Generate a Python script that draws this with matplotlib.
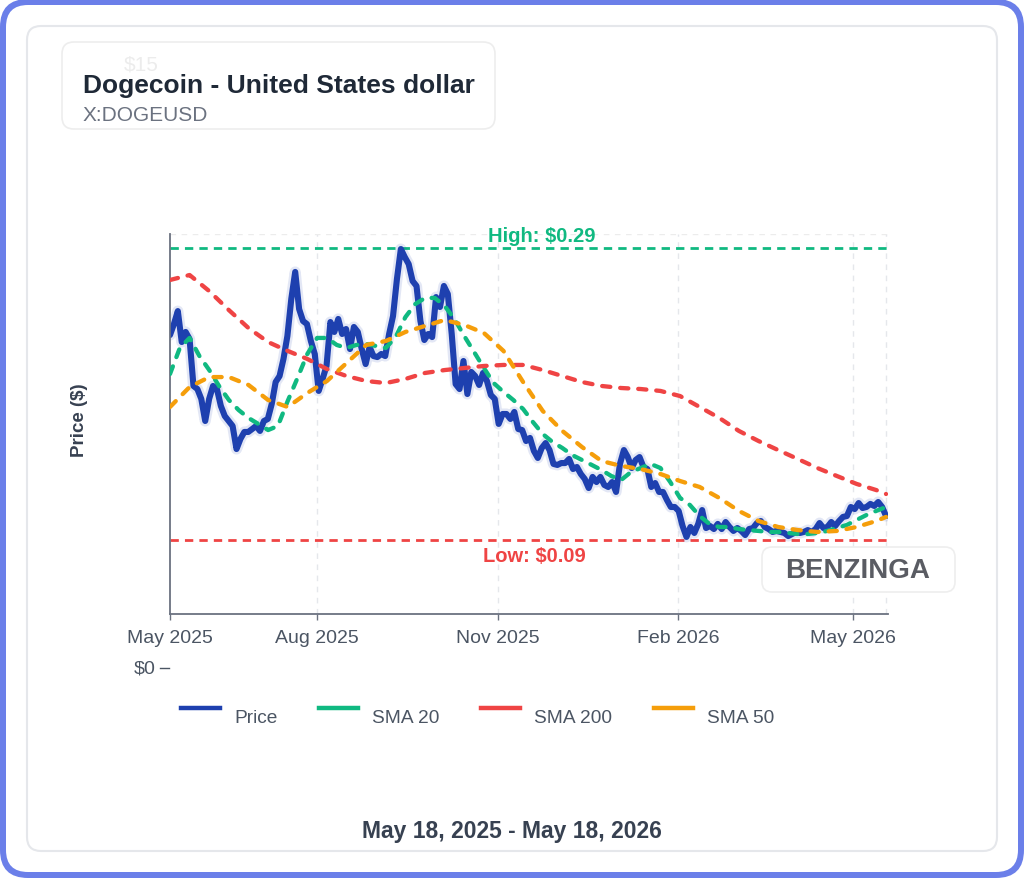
import matplotlib
matplotlib.use('Agg')
import matplotlib.pyplot as plt
import matplotlib.patheffects as pe
from matplotlib.patches import FancyBboxPatch
from matplotlib.lines import Line2D
from matplotlib.transforms import IdentityTransform
import pandas as pd

plt.rcParams['font.family'] = ['Liberation Sans', 'DejaVu Sans']

# Données
start = pd.Timestamp('2025-05-18')
end = pd.Timestamp('2026-05-18')

price = [
    0.2304, 0.2379, 0.2468, 0.2256, 0.2325, 0.2277, 0.1955, 0.1934, 0.1866, 0.1715,
    0.1866, 0.1955, 0.1934, 0.1818, 0.1749, 0.1715, 0.1681, 0.1523, 0.1592, 0.1640,
    0.1640, 0.1660, 0.1681, 0.1647, 0.1715, 0.1729, 0.1832, 0.1982, 0.2023, 0.2140,
    0.2297, 0.2551, 0.2736, 0.2482, 0.2400, 0.2379, 0.2263, 0.2174, 0.1921, 0.2003,
    0.2092, 0.2393, 0.2325, 0.2414, 0.2311, 0.2345, 0.2208, 0.2359, 0.2325, 0.2208,
    0.2105, 0.2222, 0.2160, 0.2153, 0.2174, 0.2160, 0.2311, 0.2434, 0.2688, 0.2893,
    0.2838, 0.2790, 0.2674, 0.2640, 0.2400, 0.2270, 0.2311, 0.2290, 0.2564, 0.2496,
    0.2640, 0.2585, 0.2311, 0.1968, 0.1934, 0.2126, 0.1900, 0.2051, 0.2023, 0.1962,
    0.2044, 0.1989, 0.1893, 0.1866, 0.1695, 0.1763, 0.1763, 0.1729, 0.1777, 0.1660,
    0.1653, 0.1578, 0.1599, 0.1510, 0.1462, 0.1530, 0.1564, 0.1516, 0.1421, 0.1414,
    0.1427, 0.1427, 0.1455, 0.1386, 0.1400, 0.1352, 0.1318, 0.1256, 0.1332, 0.1297,
    0.1332, 0.1277, 0.1263, 0.1297, 0.1229, 0.1421, 0.1516, 0.1468, 0.1393, 0.1448,
    0.1468, 0.1400, 0.1386, 0.1263, 0.1290, 0.1229, 0.1229, 0.1174, 0.1126, 0.1126,
    0.1099, 0.0996, 0.0921, 0.0989, 0.0948, 0.1010, 0.1105, 0.0982, 0.0996, 0.0975,
    0.1010, 0.0975, 0.1023, 0.0989, 0.0962, 0.0982, 0.0962, 0.0934, 0.0975, 0.0982,
    0.1016, 0.1030, 0.0989, 0.0975, 0.0955, 0.0962, 0.0955, 0.0948, 0.0927, 0.0941,
    0.0955, 0.0948, 0.0955, 0.0968, 0.0955, 0.0975, 0.1016, 0.0982, 0.0989, 0.1023,
    0.0996, 0.1030, 0.1058, 0.1064, 0.1126, 0.1112, 0.1153, 0.1119, 0.1126, 0.1147,
    0.1133, 0.1160, 0.1126, 0.1064,
]

# SMA 20 tous les 5 jours
sma20 = [
    0.2037, 0.2215, 0.2284, 0.2160, 0.2064, 0.1955, 0.1859, 0.1790, 0.1736, 0.1695,
    0.1653, 0.1681, 0.1852, 0.2010, 0.2174, 0.2284, 0.2284, 0.2236, 0.2215, 0.2236,
    0.2242, 0.2229, 0.2215, 0.2290, 0.2427, 0.2516, 0.2558, 0.2558, 0.2503, 0.2414,
    0.2297, 0.2188, 0.2078, 0.1975, 0.1914, 0.1859, 0.1797, 0.1708, 0.1626, 0.1571,
    0.1530, 0.1482, 0.1448, 0.1414, 0.1379, 0.1338, 0.1311, 0.1366, 0.1393, 0.1421,
    0.1393, 0.1297, 0.1188, 0.1140, 0.1064, 0.1010, 0.0989, 0.0989, 0.0975, 0.0968,
    0.0962, 0.0955, 0.0955, 0.0948, 0.0941, 0.0941, 0.0948, 0.0962, 0.0982, 0.1003,
    0.1037, 0.1071, 0.1099, 0.1126,
]

# SMA 50 / SMA 200 tous les 10 jours (+ dernier jour)
sma50 = [
    0.1811, 0.1948, 0.2016, 0.2016, 0.1962, 0.1859, 0.1811, 0.1907, 0.1989, 0.2112,
    0.2236, 0.2263, 0.2325, 0.2366, 0.2407, 0.2373, 0.2318, 0.2195, 0.1982, 0.1784,
    0.1647, 0.1537, 0.1441, 0.1407, 0.1386, 0.1352, 0.1304, 0.1263, 0.1188, 0.1099,
    0.1030, 0.0989, 0.0968, 0.0955, 0.0962, 0.0989, 0.1030, 0.1058,
]
sma200 = [
    0.2681, 0.2715, 0.2605, 0.2475, 0.2352, 0.2256, 0.2195, 0.2140, 0.2071, 0.2023,
    0.1989, 0.1975, 0.2003, 0.2044, 0.2064, 0.2078, 0.2092, 0.2099, 0.2099, 0.2064,
    0.2023, 0.1982, 0.1955, 0.1941, 0.1934, 0.1921, 0.1886, 0.1811, 0.1736, 0.1647,
    0.1578, 0.1516, 0.1455, 0.1393, 0.1338, 0.1284, 0.1242, 0.1215,
]

high = 0.29
low = 0.09

tick_dates = [start, pd.Timestamp('2025-08-01'), pd.Timestamp('2025-11-01'),
              pd.Timestamp('2026-02-01'), pd.Timestamp('2026-05-01')]
tick_labels = ['May 2025', 'Aug 2025', 'Nov 2025', 'Feb 2026', 'May 2026']

price_dates = pd.date_range(start, end, periods=len(price))
sma20_dates = pd.date_range(start, end, freq='5D')
sma_dates = list(pd.date_range(start, periods=len(sma50) - 1, freq='10D')) + [end]

BLUE = '#1e40af'
GREEN = '#10b981'
RED = '#ef4444'
ORANGE = '#f59e0b'
GREY = '#4b5563'
DARK = '#1f2937'

W, H = 1024, 879
fig = plt.figure(figsize=(W / 100, H / 100), dpi=100)
fig.patch.set_facecolor('white')


def box(x0, y0, x1, y1, r, fc, ec='none', lw=0, z=-10):
    p = FancyBboxPatch((x0, H - y1), x1 - x0, y1 - y0,
                       boxstyle=f'round,pad=0,rounding_size={r}',
                       transform=IdentityTransform(), fc=fc, ec=ec, lw=lw, zorder=z)
    fig.add_artist(p)


def txt(x, y, s, **kw):
    fig.text(x, H - y, s, transform=IdentityTransform(), **kw)


# cadre
box(0, 0, W, H, 28, '#6b7fe9', z=-13)
box(6, 6, W - 6, H - 6, 22, 'white', z=-12)
box(27, 27, 997, 852, 14, 'white', '#e5e7eb', 1.5, z=-11)
box(62, 43, 495, 130, 12, 'white', '#ededed', 1.2, z=-10)

txt(124, 65, '$15', fontsize=15, color='#ececec', va='center')
txt(83, 86, 'Dogecoin - United States dollar', fontsize=19, fontweight='bold',
    color=DARK, va='center')
txt(83, 116, 'X:DOGEUSD', fontsize=15, color='#6b7280', va='center')

# axes
ax = fig.add_axes([170 / W, 1 - 615 / H, 718 / W, 380 / H])
ax.set_facecolor('none')
ax.set_zorder(2)
ax.set_xlim(start, end + pd.Timedelta(days=1))
ax.set_ylim(0.0393, 0.2996)

for d in tick_dates[1:] + [end]:
    ax.axvline(d, color='#e5e7eb', lw=1, ls=(0, (4, 4)), zorder=0)
ax.axhline(0.2996, color='#ececec', lw=1, ls=(0, (4, 4)), zorder=0)

ax.axhline(high, color=GREEN, lw=2.0, ls=(0, (3.0, 2.2)), zorder=1)
ax.axhline(low, color=RED, lw=2.0, ls=(0, (3.0, 2.2)), zorder=1)

ax.plot(price_dates, price, color=BLUE, lw=4.4, solid_joinstyle='round',
        solid_capstyle='round', zorder=2,
        path_effects=[pe.Stroke(linewidth=8, foreground=BLUE, alpha=0.12), pe.Normal()])
dash = dict(lw=3.1, ls=(0, (1.9, 2.3)), dash_capstyle='round', zorder=3)
ax.plot(sma20_dates, sma20, color=GREEN, **dash)
ax.plot(sma_dates, sma200, color=RED, **dash)
ax.plot(sma_dates, sma50, color=ORANGE, **dash)

ax.annotate(f'High: ${high:.2f}', xy=(0.518, high), xycoords=('axes fraction', 'data'),
            xytext=(0, 9), textcoords='offset points', ha='center', va='center',
            fontsize=14.5, fontweight='bold', color=GREEN)
ax.annotate(f'Low: ${low:.2f}', xy=(0.508, low), xycoords=('axes fraction', 'data'),
            xytext=(0, -11.5), textcoords='offset points', ha='center', va='center',
            fontsize=14.5, fontweight='bold', color=RED)

for s in ['top', 'right']:
    ax.spines[s].set_visible(False)
for s in ['left', 'bottom']:
    ax.spines[s].set_color('#6b7280')
    ax.spines[s].set_linewidth(1.3)
ax.set_yticks([])
ax.set_xticks(tick_dates)
ax.set_xticklabels(tick_labels)
ax.tick_params(axis='x', length=4, width=1, color='#6b7280', labelsize=14,
               labelcolor=GREY, pad=7)

txt(80, 420, 'Price ($)', fontsize=13.5, fontweight='bold', color='#374151',
    rotation=90, ha='center', va='center')
txt(156, 669, '$0', fontsize=14, color=GREY, ha='right', va='center')
fig.add_artist(Line2D([160, 169], [H - 669, H - 669], color=GREY, lw=1,
                      transform=IdentityTransform()))

# légende
legend = [('Price', BLUE, 181), ('SMA 20', GREEN, 319),
          ('SMA 200', RED, 481), ('SMA 50', ORANGE, 654)]
for name, c, x in legend:
    fig.add_artist(Line2D([x, x + 39], [H - 709, H - 709], color=c, lw=3.2,
                          transform=IdentityTransform()))
    txt(x + 53, 719, name, fontsize=13.8, color=GREY, va='center')

# logo
box(762, 548, 955, 593, 10, 'white', '#eeeeee', 1.2, z=5)
txt(858, 571, 'BENZINGA', fontsize=20, fontweight='bold', color='#5a5c63',
    ha='center', va='center', zorder=6)

txt(512, 832, f"{start:%b %d, %Y} - {end:%b %d, %Y}", fontsize=16.5,
    fontweight='bold', color='#374151', ha='center', va='center')

fig.savefig('out.png', dpi=100)
